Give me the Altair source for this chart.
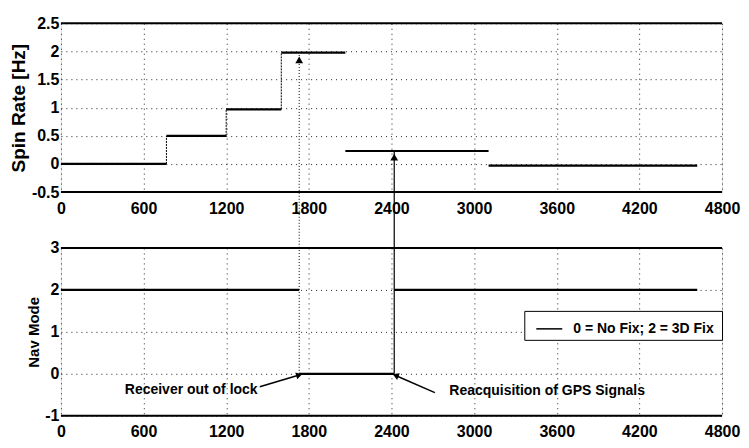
import altair as alt
import pandas as pd

# ---- data ----
x_ticks = [0, 600, 1200, 1800, 2400, 3000, 3600, 4200, 4800]
spin_ticks = [-0.5, 0, 0.5, 1, 1.5, 2, 2.5]
nav_ticks = [-1, 0, 1, 2, 3]

spin_t_start = [0, 766, 1200, 1600, 2065, 3105]
spin_t_end = [766, 1200, 1600, 2065, 3105, 4620]
spin_rate = [0.0, 0.5, 0.97, 1.98, 0.23, -0.03]

nav_t_start = [0, 1730, 2420]
nav_t_end = [1730, 2420, 4620]
nav_mode = [2, 0, 2]
nav_label = "0 = No Fix;  2 = 3D Fix"

# events: receiver lost lock / GPS reacquired
event_t = [1730, 2420]
event_dash = ["dot", "solid"]
event_spin_tip = [1.85, 0.12]
event_spin_top = [1.98, 0.23]

ann_text = ["Receiver out of lock", "Reacquisition of GPS Signals"]
ann_text_x = [946, 3530]
ann_text_y = [-0.38, -0.42]
ann_from_x = [1444, 2715]
ann_from_y = [-0.31, -0.45]
ann_to_x = [1730, 2430]
ann_to_y = [-0.03, -0.04]
ann_angle = [74, 292]

W = 662
H_TOP = 169
H_BOT = 168
GAP = 56
SANS = "Liberation Sans, Arial, sans-serif"

spin_df = pd.DataFrame({"t0": spin_t_start, "t1": spin_t_end, "rate": spin_rate})
riser_df = pd.DataFrame({"t": spin_t_start[1:4], "lo": spin_rate[0:3], "hi": spin_rate[1:4]})
nav_df = pd.DataFrame({"t0": nav_t_start, "t1": nav_t_end, "mode": nav_mode,
                       "label": [nav_label] * len(nav_mode)})
ev_df = pd.DataFrame({"t": event_t, "dash": event_dash, "tip": event_spin_tip,
                      "top": event_spin_top, "low": [-1.49, -1.49], "nlo": [0, 0], "nhi": [3, 3]})
ann_df = pd.DataFrame({"text": ann_text, "tx": ann_text_x, "ty": ann_text_y,
                       "fx": ann_from_x, "fy": ann_from_y, "x": ann_to_x, "y": ann_to_y,
                       "angle": ann_angle})

MINUS = "replace(datum.label, '\u2212', '-')"

X_AXIS = alt.Axis(values=x_ticks, format="d", title=None, labelFont=SANS,
                  labelFontSize=16, labelFontWeight="bold", labelColor="black",
                  ticks=False, labelPadding=8, domain=False, labelFlush=False,
                  grid=True, gridDash=[1, 4], gridColor="#222", labelOverlap=False)


def yax(vals, title, fmt, tsize):
    return alt.Axis(values=vals, format=fmt, title=title, labelFont=SANS,
                    labelFontSize=16, labelFontWeight="bold", labelColor="black",
                    labelExpr=MINUS, ticks=False, labelPadding=2, domain=False, grid=True,
                    gridDash=[1, 4], gridColor="#222", titleFont=SANS, titleFontSize=tsize,
                    titleFontWeight="bold", titleColor="black", titlePadding=3,
                    labelOverlap=False)


TOP_Y = yax(spin_ticks, "Spin Rate [Hz]", "", 19)
BOT_Y = yax(nav_ticks, "Nav Mode", "d", 15)

xs = alt.Scale(domain=[0, 4800], nice=False, zero=False)
ys_top = alt.Scale(domain=[-0.5, 2.5], nice=False, zero=False)
ys_bot = alt.Scale(domain=[-1, 3], nice=False, zero=False)


def X(f):
    return alt.X(f, scale=xs, axis=X_AXIS)


def YT(f):
    return alt.Y(f, scale=ys_top, axis=TOP_Y)


def YB(f):
    return alt.Y(f, scale=ys_bot, axis=BOT_Y)


# ---------- top panel ----------
spin_lines = alt.Chart(spin_df).mark_rule(strokeWidth=2.2, color="black").encode(
    x=X("t0:Q"), x2="t1:Q", y=YT("rate:Q"))
risers = alt.Chart(riser_df).mark_rule(strokeWidth=1, color="black", strokeDash=[2, 1]).encode(
    x=X("t:Q"), y=YT("lo:Q"), y2="hi:Q")
ev_top_dot = alt.Chart(ev_df).transform_filter(alt.datum.dash == "dot").mark_rule(
    strokeWidth=1, color="black", strokeDash=[1, 2], clip=False).encode(
    x=X("t:Q"), y=YT("low:Q"), y2="top:Q")
ev_top_solid = alt.Chart(ev_df).transform_filter(alt.datum.dash == "solid").mark_rule(
    strokeWidth=1.2, color="black", clip=False).encode(
    x=X("t:Q"), y=YT("low:Q"), y2="top:Q")
ev_top_head = alt.Chart(ev_df).mark_point(shape="triangle-up", filled=True, size=60,
                                          color="black", opacity=1).encode(
    x=X("t:Q"), y=YT("tip:Q"))
frame_top = alt.Chart(pd.DataFrame({"v": [spin_ticks[0], spin_ticks[-1]]})).mark_rule(
    strokeWidth=2, color="black").encode(y=YT("v:Q"), x=alt.value(0), x2=alt.value(W))

top = alt.layer(spin_lines, risers, ev_top_dot, ev_top_solid, ev_top_head, frame_top).properties(
    width=W, height=H_TOP)

# ---------- bottom panel ----------
nav_lines = alt.Chart(nav_df).mark_rule(strokeWidth=2.2).encode(
    x=X("t0:Q"), x2="t1:Q", y=YB("mode:Q"),
    color=alt.Color("label:N", scale=alt.Scale(range=["black"]),
                    legend=alt.Legend(title=None, orient="none", legendX=464, legendY=288,
                                      strokeColor="black", fillColor="white", padding=4,
                                      symbolType="stroke", symbolSize=676, labelOffset=10,
                                      symbolOffset=7,
                                      symbolStrokeWidth=1.5, labelFont=SANS,
                                      labelFontSize=14, labelColor="black", labelLimit=400,
                                      labelFontWeight="bold")),
)
ev_bot_dot = alt.Chart(ev_df).transform_filter(alt.datum.dash == "dot").mark_rule(
    strokeWidth=1, color="black", strokeDash=[1, 2]).encode(
    x=X("t:Q"), y=YB("nlo:Q"), y2="nhi:Q")
ev_bot_solid = alt.Chart(ev_df).transform_filter(alt.datum.dash == "solid").mark_rule(
    strokeWidth=1.2, color="black").encode(
    x=X("t:Q"), y=YB("nlo:Q"), y2="nhi:Q")
ann_lines = alt.Chart(ann_df).mark_rule(strokeWidth=1.5, color="black").encode(
    x=X("fx:Q"), y=YB("fy:Q"), x2="x:Q", y2="y:Q")
ann_heads = alt.Chart(ann_df).mark_point(shape="triangle-up", filled=True, size=50,
                                         color="black", opacity=1).encode(
    x=X("x:Q"), y=YB("y:Q"), angle=alt.Angle("angle:Q", scale=None))
ann_labels = alt.Chart(ann_df).mark_text(font=SANS, fontSize=14, fontWeight="bold",
                                         color="black").encode(
    x=X("tx:Q"), y=YB("ty:Q"), text="text:N")
frame_bot = alt.Chart(pd.DataFrame({"v": [nav_ticks[0], nav_ticks[-1]]})).mark_rule(
    strokeWidth=2, color="black").encode(y=YB("v:Q"), x=alt.value(0), x2=alt.value(W))

bottom = alt.layer(nav_lines, ev_bot_dot, ev_bot_solid, ann_lines, ann_heads, ann_labels,
                   frame_bot).properties(width=W, height=H_BOT)

chart = alt.vconcat(top, bottom, spacing=GAP, bounds="flush").configure_view(
    stroke="#555", strokeWidth=1, strokeDash=[2, 2]
).configure_axis(labelOverlap=False).configure(
    background="white", padding={"left": 0, "top": 6, "right": 0, "bottom": 0})

chart.save("out.html", embed_options={"renderer": "svg", "actions": False})
